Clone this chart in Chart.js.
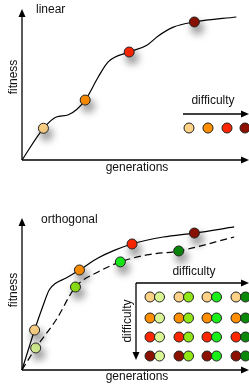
<!DOCTYPE html>
<html>
<head>
<meta charset="utf-8">
<script src="https://cdn.jsdelivr.net/npm/chart.js@4/dist/chart.umd.min.js"></script>
<style>
  body { margin: 0; background: #fff; }
  canvas { display: block; }
</style>
</head>
<body>
<canvas id="linearChart" width="249" height="190"></canvas>
<canvas id="orthoChart" width="249" height="195"></canvas>
<script>
// difficulty levels of the task (light -> hard) and of the second, orthogonal task
const taskColors = ['#fdd286', '#ff8e00', '#ff2600', '#8c1100'];
const orthoColors = ['#d9f594', '#8fe614', '#18ee18', '#0a880a'];

// linear: fitness over generations
const linCurveGen = [0, 0.97, 1.55, 2.1, 2.86, 3.45, 3.9, 4.85, 5.65, 6.15, 6.85, 7.8, 9.7];
const linCurveFit = [0, 2.1, 2.85, 3.0, 3.97, 5.5, 6.5, 7.15, 7.6, 8.2, 8.8, 9.14, 9.47];
const linDotGen = [0.97, 2.86, 4.85, 7.8];
const linDotFit = [2.1, 3.97, 7.15, 9.14];

// orthogonal: two curves (solid = task 1, dashed = task 2)
const solidGen = [0, 0.57, 0.93, 1.23, 1.54, 2.0, 2.6, 3.44, 4.2, 4.98, 6.39, 7.8, 9.6];
const solidFit = [0, 2.63, 4.14, 5.26, 5.72, 6.05, 6.58, 7.37, 7.89, 8.29, 8.75, 9.01, 9.41];
const solidDotGen = [0.57, 2.6, 4.98, 7.8];
const solidDotFit = [2.63, 6.58, 8.29, 9.01];
const dashGen = [0, 0.62, 1.54, 2.42, 3.44, 4.45, 5.64, 7.09, 9.6];
const dashFit = [0, 1.45, 3.29, 5.46, 6.45, 7.11, 7.57, 7.83, 8.75];
const dashDotGen = [0.62, 2.42, 4.45, 7.09];
const dashDotFit = [1.45, 5.46, 7.11, 7.83];

const FONT = '12px "Liberation Sans", Arial, sans-serif';

function pts(xs, ys) {
  return xs.map((x, i) => ({ x: x, y: ys[i] }));
}

function dot(ctx, x, y, color) {
  ctx.beginPath();
  ctx.arc(x, y, 5, 0, Math.PI * 2);
  ctx.fillStyle = color;
  ctx.fill();
  ctx.lineWidth = 1;
  ctx.strokeStyle = '#222';
  ctx.stroke();
}

function arrow(ctx, x1, y1, x2, y2) {
  const a = Math.atan2(y2 - y1, x2 - x1);
  ctx.strokeStyle = '#000';
  ctx.fillStyle = '#000';
  ctx.lineWidth = 1.3;
  ctx.beginPath();
  ctx.moveTo(x1, y1);
  ctx.lineTo(x2 - 6 * Math.cos(a), y2 - 6 * Math.sin(a));
  ctx.stroke();
  ctx.save();
  ctx.translate(x2, y2);
  ctx.rotate(a);
  ctx.beginPath();
  ctx.moveTo(0, 0);
  ctx.lineTo(-8, -3.5);
  ctx.lineTo(-8, 3.5);
  ctx.closePath();
  ctx.fill();
  ctx.restore();
}

function text(ctx, s, x, y, align, rot) {
  ctx.save();
  ctx.translate(x, y);
  if (rot) ctx.rotate(-Math.PI / 2);
  ctx.font = FONT;
  ctx.fillStyle = '#111';
  ctx.textAlign = align || 'center';
  ctx.textBaseline = 'middle';
  ctx.fillText(s, 0, 0);
  ctx.restore();
}

// soft drop shadow under the points on the curves
const shadowPlugin = {
  id: 'dotShadow',
  beforeDatasetDraw(chart, args) {
    const ds = chart.data.datasets[args.index];
    if (!ds.shadow) return;
    const ctx = chart.ctx;
    ctx.save();
    ctx.shadowColor = 'rgba(0,0,0,0.55)';
    ctx.shadowBlur = 8;
    ctx.shadowOffsetX = 3;
    ctx.shadowOffsetY = 6;
  },
  afterDatasetDraw(chart, args) {
    if (chart.data.datasets[args.index].shadow) chart.ctx.restore();
  }
};

// axes with arrow heads, labels and the difficulty key
const decorPlugin = {
  id: 'decor',
  beforeDatasetsDraw(chart, args, opts) {
    const ctx = chart.ctx;
    const a = chart.chartArea;
    arrow(ctx, a.left, a.bottom, a.left, a.top);
    arrow(ctx, a.left, a.bottom, chart.width, a.bottom);
    text(ctx, opts.title, opts.titleX, opts.titleY, 'left');
    text(ctx, 'fitness', 14, opts.fitnessY, 'center', true);
    text(ctx, 'generations', 137, opts.genY);

    if (opts.key === 'linear') {
      text(ctx, 'difficulty', 213, 101);
      arrow(ctx, 183, 114, 249, 114);
      [189, 208, 227, 245].forEach((x, i) => dot(ctx, x, 128, taskColors[i]));
    } else {
      text(ctx, 'difficulty', 194, 82);
      arrow(ctx, 136, 93, 249, 93);
      arrow(ctx, 136, 93, 136, 170);
      text(ctx, 'difficulty', 128, 131, 'center', true);
      const rows = [107, 128, 147, 166];
      const cols = [150, 179, 207, 236];
      rows.forEach((y, r) => {
        cols.forEach((x, c) => {
          dot(ctx, x, y, taskColors[r]);
          dot(ctx, x + 9.5, y, orthoColors[c]);
        });
      });
    }
  }
};

function lineSet(data, dash) {
  return {
    type: 'line',
    data: data,
    borderColor: '#000',
    borderWidth: 1.2,
    borderDash: dash || [],
    pointRadius: 0,
    cubicInterpolationMode: 'monotone',
    fill: false,
    clip: false
  };
}

function dotSet(data, colors) {
  return {
    type: 'scatter',
    data: data,
    pointRadius: 5,
    pointHoverRadius: 5,
    pointBackgroundColor: colors,
    pointBorderColor: '#222',
    pointBorderWidth: 1,
    showLine: false,
    shadow: true,
    clip: false
  };
}

function makeChart(id, datasets, padding, decor) {
  return new Chart(document.getElementById(id), {
    type: 'scatter',
    data: { datasets: datasets },
    options: {
      responsive: false,
      animation: false,
      events: [],
      layout: { padding: padding },
      scales: {
        x: { type: 'linear', min: 0, max: 10, display: false },
        y: { type: 'linear', min: 0, max: 10, display: false }
      },
      plugins: {
        legend: { display: false },
        tooltip: { enabled: false },
        decor: decor
      }
    },
    plugins: [shadowPlugin, decorPlugin]
  });
}

makeChart('linearChart', [
  dotSet(pts(linDotGen, linDotFit), taskColors),
  lineSet(pts(linCurveGen, linCurveFit))
], { left: 22, top: 9, right: 0, bottom: 30 },
{ title: 'linear', titleX: 36, titleY: 10, fitnessY: 77, genY: 168, key: 'linear' });

makeChart('orthoChart', [
  dotSet(pts(solidDotGen, solidDotFit), taskColors),
  dotSet(pts(dashDotGen, dashDotFit), orthoColors),
  lineSet(pts(solidGen, solidFit)),
  lineSet(pts(dashGen, dashFit), [7, 4])
], { left: 22, top: 28, right: 0, bottom: 15 },
{ title: 'orthogonal', titleX: 41, titleY: 30, fitnessY: 100, genY: 187, key: 'ortho' });
</script>
</body>
</html>
